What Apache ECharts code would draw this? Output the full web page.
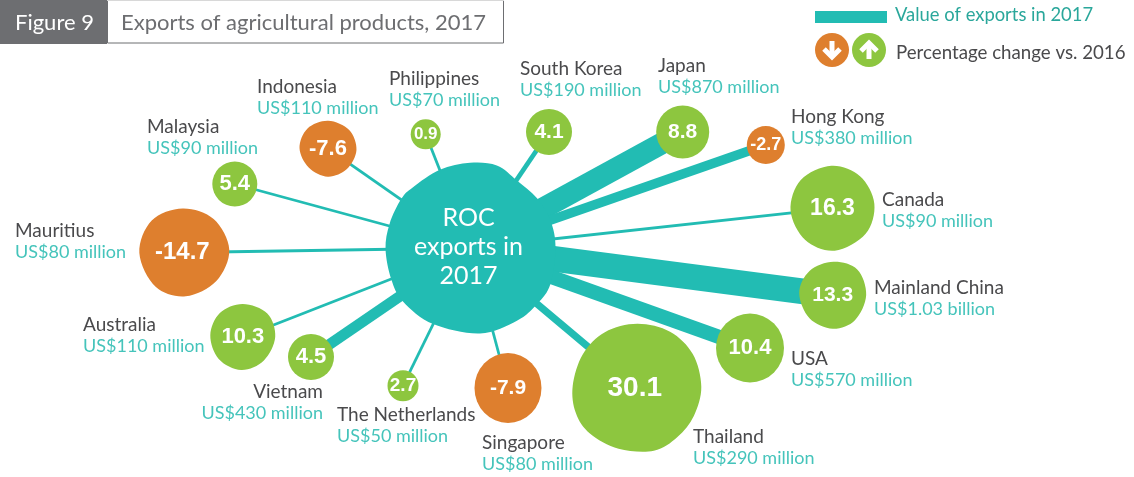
<!DOCTYPE html>
<html><head><meta charset="utf-8">
<style>html,body{margin:0;padding:0;background:#fff}#c{width:1134px;height:477px}</style>
<script src="https://cdn.jsdelivr.net/npm/echarts@6/dist/echarts.min.js"></script>
</head><body><div id="c"></div>
<script>
// DATA
const countries = ['Japan','Hong Kong','Canada','Mainland China','USA','Thailand','Singapore','The Netherlands','Vietnam','Australia','Mauritius','Malaysia','Indonesia','Philippines','South Korea'];
const exportsUSDm = [870,380,90,1030,570,290,80,50,430,110,80,90,110,70,190];
const exportLabels = ['US$870 million','US$380 million','US$90 million','US$1.03 billion','US$570 million','US$290 million','US$80 million','US$50 million','US$430 million','US$110 million','US$80 million','US$90 million','US$110 million','US$70 million','US$190 million'];
const pctChange = [8.8,-2.7,16.3,13.3,10.4,30.1,-7.9,2.7,4.5,10.3,-14.7,5.4,-7.6,0.9,4.1];

// LAYOUT (separate from the data)
const nodeXY = [[682.7,132],[765.8,145],[832.5,208.3],[832.7,295.3],[750,348],[636.8,387.8],[508,388],[403,385.7],[311,357],[242.8,337],[184.3,252.5],[234.8,184],[328,148.7],[425.7,134.3],[549,132]];
const nodeSize = [[53,53],[38,38],[84,85],[67,67],[68,69],[129,128],[67,70],[31,31],[46,46],[65,66],[90,88],[45,45],[57,56],[30,30],[46,46]];
const numSize = [21,18,23,21,22,28,21,19,22,22,24,22,22,17,21];
const numDX = [0,0,0,0,0,-2,0,0,0,0,-2,0,0,0,0];
const labelXY = [[658,65],[791,116],[882,199],[874,287],[791,358],[693,436],[482,442],[337,414],[323,391],[83,324],[15,230],[147,126],[257,86],[389,78],[520,68]];
const labelAlign = countries.map(c => c === 'Vietnam' ? 'right' : 'left');
const hubXY = [470.5,248];
const hubPoly = [[210,58],[300,37],[380,45],[440,90],[500,143],[540,210],[555,290],[540,400],[500,460],[440,510],[330,548],[190,520],[100,452],[65,385],[48,295],[60,220],[95,145],[130,110]];
const outlines = {
  Thailand:[[230,42],[330,68],[395,130],[423,235],[395,320],[345,375],[290,425],[170,415],[85,365],[52,310],[37,235],[70,130],[130,70]],
  Canada:[[880,18],[960,50],[1003,130],[985,215],[880,272],[800,235],[752,150],[780,60]],
  'Mainland China':[[880,305],[950,320],[978,405],[940,485],[880,507],[810,480],[778,395],[810,330]],
  Mauritius:[[160,25],[245,50],[298,150],[255,245],[165,290],[85,270],[28,155],[70,55]],
  Australia:[[335,313],[415,340],[435,410],[400,480],[335,510],[265,475],[242,405],[270,340]],
  Indonesia:[[385,32],[450,60],[470,120],[440,175],[385,200],[330,170],[300,115],[325,55]]
};

const TEAL='#22bcb3', GREEN='#8dc63f', ORANGE='#de7f2e', GREY='#6d6e71', INK='#4a4a4c', TEALTXT='#45c4bb';
const FONT='Lato';

// soften hand-read outline points
function soften(p){
  const n=p.length;
  return p.map((q,i)=>{const a=p[(i-1+n)%n],c=p[(i+1)%n];
    return [0.2*a[0]+0.6*q[0]+0.2*c[0],0.2*a[1]+0.6*q[1]+0.2*c[1]];});
}
// closed Catmull-Rom curve through the outline points
function blob(p){
  const n=p.length, at=i=>p[(i+n)%n];
  let d='M'+p[0][0]+' '+p[0][1];
  for(let i=0;i<n;i++){
    const a=at(i-1),b=at(i),c=at(i+1),e=at(i+2);
    d+=' C'+(b[0]+(c[0]-a[0])/6)+' '+(b[1]+(c[1]-a[1])/6)+' '+(c[0]-(e[0]-b[0])/6)+' '+(c[1]-(e[1]-b[1])/6)+' '+c[0]+' '+c[1];
  }
  return 'path://'+d+' Z';
}
const widthFor = v => Math.max(2.8, v/40);

const nodes = [{
  name:'ROC exports in 2017', value:hubXY, symbol:blob(hubPoly), symbolSize:[170,171],
  itemStyle:{color:TEAL},
  label:{show:true,position:'inside',offset:[-2,-1],formatter:'ROC\nexports in\n2017',fontFamily:FONT,fontSize:25,lineHeight:29,color:'#fff'}
}].concat(countries.map((c,i)=>({
  name:c, value:nodeXY[i], symbol:outlines[c]?blob(soften(outlines[c])):'circle', symbolSize:nodeSize[i],
  itemStyle:{color:pctChange[i]<0?ORANGE:GREEN},
  label:{show:true,position:'inside',offset:[numDX[i],0],formatter:String(pctChange[i]),fontFamily:'Liberation Sans',fontWeight:'bold',
    fontSize:numSize[i],color:'#fff'}
})));
const links = countries.map((c,i)=>({source:0,target:i+1,lineStyle:{width:widthFor(exportsUSDm[i]),color:TEAL,opacity:1}}));

const labelGraphics = countries.map((c,i)=>({
  type:'text',left:labelAlign[i]==='left'?labelXY[i][0]:undefined,
  right:labelAlign[i]==='right'?1134-labelXY[i][0]:undefined,
  top:labelXY[i][1]-9,
  style:{text:'{a|'+c+'}\n{b|'+exportLabels[i]+'}',align:labelAlign[i],
    rich:{a:{fontFamily:FONT,fontSize:19,lineHeight:22,fill:INK,align:labelAlign[i]},
          b:{fontFamily:FONT,fontSize:18,lineHeight:22,fill:TEALTXT,align:labelAlign[i]}}}
}));

const chrome = [
  {type:'rect',shape:{x:107.5,y:0.5,width:396,height:42.5},style:{fill:'#fff',stroke:GREY,lineWidth:1}},
  {type:'line',shape:{x1:107,y1:0.5,x2:504,y2:0.5},style:{stroke:'#d8d8d8',lineWidth:1}},
  {type:'rect',shape:{x:0,y:0,width:107,height:44},style:{fill:GREY}},
  {type:'text',x:15,y:12,style:{text:'Figure 9',fontFamily:FONT,fontSize:22,fill:'#fff'}},
  {type:'text',x:121,y:12,style:{text:'Exports of agricultural products, 2017',fontFamily:FONT,fontSize:22,fill:GREY}},
  {type:'rect',shape:{x:815,y:11,width:72,height:12},style:{fill:TEAL}},
  {type:'text',x:895,y:6,style:{text:'Value of exports in 2017',fontFamily:FONT,fontSize:18.4,fill:'#2aa79b'}},
  {type:'circle',shape:{cx:832,cy:50,r:17},style:{fill:ORANGE}},
  {type:'circle',shape:{cx:869,cy:50,r:17},style:{fill:GREEN}},
  {type:'polyline',shape:{points:[[824,49],[832,57],[840,49]]},style:{stroke:'#fff',lineWidth:5,fill:'none'}},
  {type:'line',shape:{x1:832,y1:41,x2:832,y2:56},style:{stroke:'#fff',lineWidth:5}},
  {type:'polyline',shape:{points:[[861,51],[869,43],[877,51]]},style:{stroke:'#fff',lineWidth:5,fill:'none'}},
  {type:'line',shape:{x1:869,y1:44,x2:869,y2:59},style:{stroke:'#fff',lineWidth:5}},
  {type:'text',x:896,y:43,style:{text:'Percentage change vs. 2016',fontFamily:FONT,fontSize:18.7,fill:INK}}
];

const chart = echarts.init(document.getElementById('c'));
chart.setOption({
  animation:false,
  grid:{left:0,top:0,right:0,bottom:0},
  xAxis:{type:'value',min:0,max:1134,show:false},
  yAxis:{type:'value',min:0,max:477,inverse:true,show:false},
  series:[{type:'graph',coordinateSystem:'cartesian2d',layout:'none',data:nodes,links:links,silent:true,z:3}],
  graphic:chrome.concat(labelGraphics)
});
</script></body></html>
